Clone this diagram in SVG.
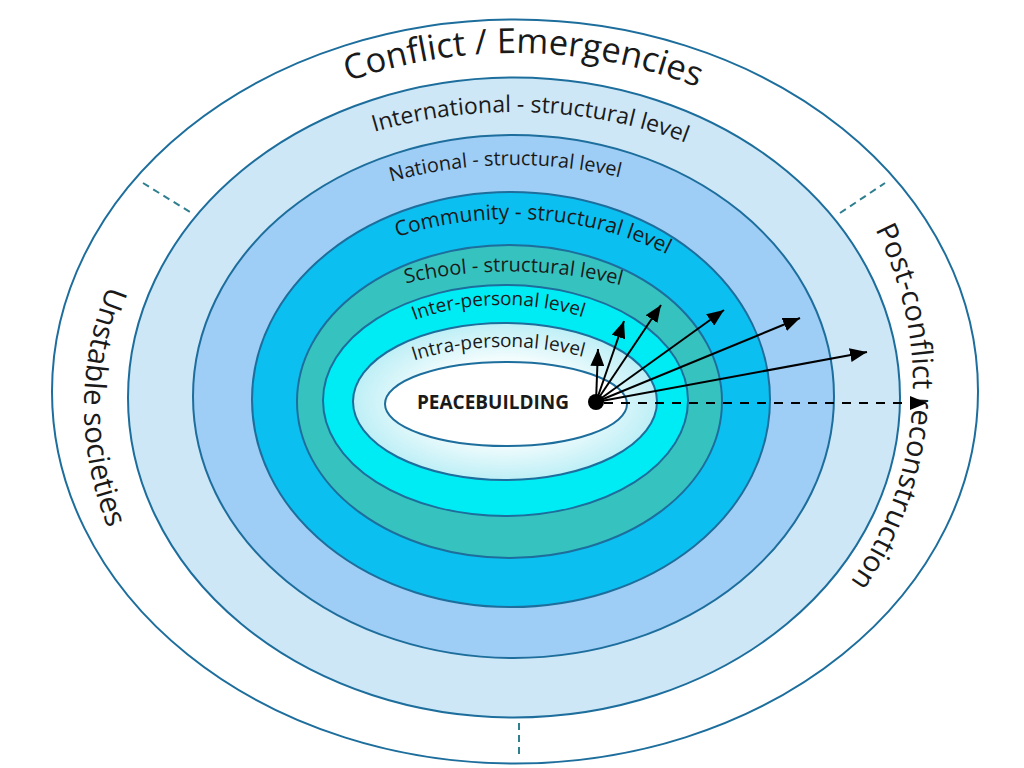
<svg xmlns="http://www.w3.org/2000/svg" width="1024" height="768" viewBox="0 0 1024 768">
<defs>
<style>
.ring{stroke:#1d6e9c;stroke-width:2}
.lbl{font-family:"Open Sans","Liberation Sans",sans-serif;fill:#1a1a1a;text-anchor:middle}
.arr{stroke:#000;stroke-width:2;fill:none;marker-end:url(#ah)}
.sep{stroke:#2f7f8f;stroke-width:2;stroke-dasharray:7 5;fill:none}
</style>
<marker id="ah" markerUnits="userSpaceOnUse" markerWidth="17" markerHeight="14" refX="17" refY="7" orient="auto"><path d="M0,0 L17,7 L0,14 z" fill="#000"/></marker>
<radialGradient id="g7" cx="0.5" cy="0.5" r="0.5">
<stop offset="0.55" stop-color="#f2fcfd"/>
<stop offset="1" stop-color="#bdeff6"/>
</radialGradient>
<path id="p-conflict" d="M100,391 A415,338 0 0 1 930,391"/>
<path id="p-intl" d="M134,398 A380,286 0 0 1 894,398"/>
<path id="p-natl" d="M186,395 A328,230 0 0 1 842,395"/>
<path id="p-comm" d="M246,404 A265,185 0 0 1 776,404"/>
<path id="p-school" d="M271,391.5 A239,120 0 0 1 749,391.5"/>
<path id="p-inter" d="M336,405 A167,100 0 0 1 670,405"/>
<path id="p-intra" d="M342,427 A163,80 0 0 1 668,427"/>
<path id="p-unstable" d="M515,40 A431,367 0 0 0 84,407 A431,367 0 0 0 515,774"/>
<path id="p-post" d="M515,19 A398,366 0 0 1 913,385 A398,366 0 0 1 515,751"/>
</defs>
<rect width="1024" height="768" fill="#ffffff"/>

<g id="conflict-emergencies">
<ellipse class="ring" cx="515" cy="391.5" rx="463" ry="372" fill="#ffffff"/>
<line class="sep" x1="143" y1="183" x2="190" y2="212"/>
<line class="sep" x1="840" y1="213" x2="885" y2="183"/>
<line class="sep" x1="519" y1="723" x2="519" y2="759"/>
<text class="lbl" font-size="34.5"><textPath href="#p-conflict" startOffset="50.7%">Conflict / Emergencies</textPath></text>
<text class="lbl" font-size="29.5"><textPath href="#p-unstable" startOffset="50%">Unstable societies</textPath></text>
<text class="lbl" font-size="29"><textPath href="#p-post" startOffset="52%">Post-conflict reconstruction</textPath></text>
</g>

<g id="international-level">
<ellipse class="ring" cx="514" cy="397.5" rx="386" ry="320" fill="#cde7f7"/>
<text class="lbl" font-size="23"><textPath href="#p-intl" startOffset="51.6%">International - structural level</textPath></text>
</g>

<g id="national-level">
<ellipse class="ring" cx="513.5" cy="396.5" rx="320.5" ry="261.5" fill="#9ecdf5"/>
<text class="lbl" font-size="19.8"><textPath href="#p-natl" startOffset="49%">National - structural level</textPath></text>
</g>

<g id="community-level">
<ellipse class="ring" cx="511" cy="399.5" rx="259" ry="207.5" fill="#0bbff0"/>
<text class="lbl" font-size="21"><textPath href="#p-comm" startOffset="53.2%">Community - structural level</textPath></text>
</g>

<g id="school-level">
<ellipse class="ring" cx="509.5" cy="401.5" rx="212.5" ry="156.5" fill="#36c3bf"/>
<text class="lbl" font-size="20"><textPath href="#p-school" startOffset="50.6%">School - structural level</textPath></text>
</g>

<g id="inter-personal-level">
<ellipse class="ring" cx="505.5" cy="400.5" rx="182.5" ry="115.5" fill="#00ecf5"/>
<text class="lbl" font-size="19"><textPath href="#p-inter" startOffset="48.9%">Inter-personal level</textPath></text>
</g>

<g id="intra-personal-level">
<ellipse class="ring" cx="505" cy="401.5" rx="152" ry="78.5" fill="url(#g7)"/>
<text class="lbl" font-size="19"><textPath href="#p-intra" startOffset="48.3%">Intra-personal level</textPath></text>
</g>

<g id="peacebuilding">
<ellipse class="ring" cx="506" cy="404" rx="121" ry="42" fill="#ffffff"/>
<text class="lbl" x="493" y="408.5" font-size="19" font-weight="bold">PEACEBUILDING</text>
</g>

<g id="connectors">
<line class="arr" x1="596" y1="402" x2="598" y2="349"/>
<line class="arr" x1="596" y1="402" x2="624" y2="321"/>
<line class="arr" x1="596" y1="402" x2="661" y2="305"/>
<line class="arr" x1="596" y1="402" x2="724" y2="310"/>
<line class="arr" x1="596" y1="402" x2="800" y2="318"/>
<line class="arr" x1="596" y1="402" x2="867" y2="352"/>
<line class="arr" x1="604" y1="403" x2="927" y2="403" stroke-dasharray="9 8"/>
<circle cx="596" cy="402" r="8" fill="#000"/>
</g>
</svg>
